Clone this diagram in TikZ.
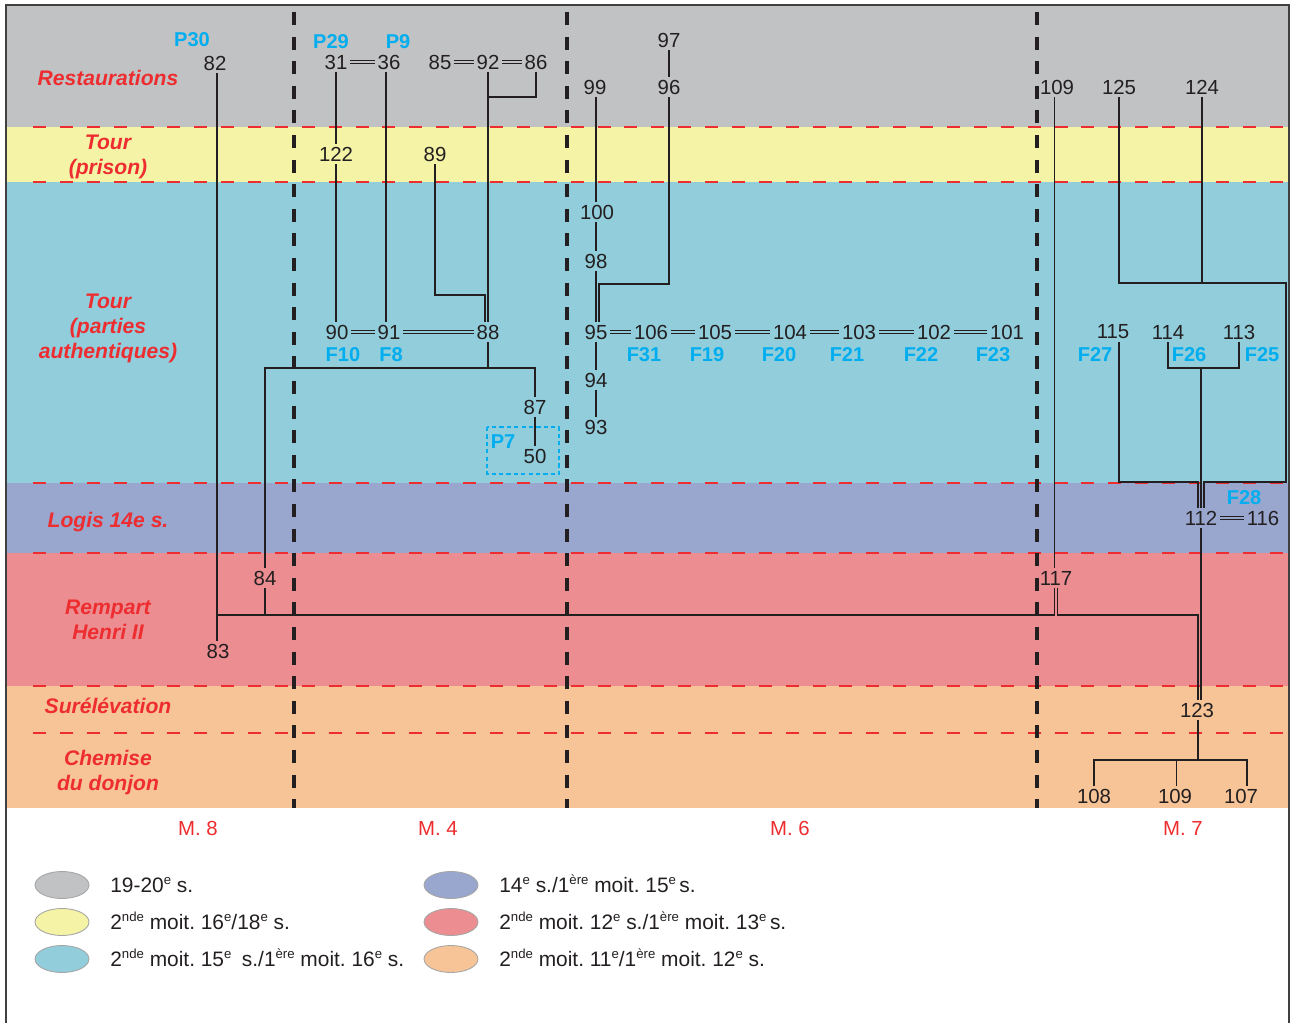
\documentclass[tikz,border=0pt]{standalone}
\usepackage{fontspec}
\setmainfont{Liberation Sans}
\usepackage{tikz}
\usetikzlibrary{positioning,calc,shapes.geometric}
\definecolor{cRest}{HTML}{C1C2C4}
\definecolor{cPrison}{HTML}{F4F3A6}
\definecolor{cTour}{HTML}{91CDDB}
\definecolor{cLogis}{HTML}{99A7CF}
\definecolor{cRempart}{HTML}{EB8D91}
\definecolor{cChemise}{HTML}{F7C497}
\definecolor{cRed}{HTML}{ED2D30}
\definecolor{cCyan}{HTML}{00AEEF}
\definecolor{cInk}{HTML}{231F20}
\newcommand\expo[1]{\raisebox{4pt}{\fontsize{7.5}{7.5}\selectfont #1}}
\frenchspacing
\tikzset{
  num/.style={text=cInk, font=\fontsize{11.6}{13}\selectfont, inner sep=1.5pt},
  fab/.style={text=cCyan, font=\fontsize{11.4}{13}\selectfont\bfseries, inner sep=1pt},
  zone/.style={text=cRed, font=\fontsize{12}{14.2}\selectfont\bfseries\itshape, align=center},
  mlab/.style={text=cRed, font=\fontsize{11.6}{13}\selectfont},
  keytext/.style={text=cInk, font=\fontsize{11.9}{13}\selectfont, anchor=base west, inner sep=0pt},
  link/.style={draw=cInk, line width=0.65pt},
  twin/.style={draw=cInk, double=#1, double distance=1.5pt, line width=0.45pt},
  limit/.style={draw=cRed, line width=0.8pt, dash pattern=on 7.4pt off 7.9pt},
  wall/.style={draw=cInk, line width=1.8pt, dash pattern=on 7.4pt off 6.6pt},
  key/.style={ellipse, draw=black!35, fill=#1, line width=0.5pt,
              minimum width=1.08cm, minimum height=0.54cm, inner sep=0pt},
}

\begin{document}
\begin{tikzpicture}[x=0.02cm, y=-0.02cm]
\useasboundingbox (0,0) rectangle (1290,1023);
% bands
\fill[cRest] (6,5) rectangle (1289,127);
\fill[cPrison] (6,127) rectangle (1289,182);
\fill[cTour] (6,182) rectangle (1289,483);
\fill[cLogis] (6,483) rectangle (1289,553);
\fill[cRempart] (6,553) rectangle (1289,686);
\fill[cChemise] (6,686) rectangle (1289,808);
\foreach \y in {127,182,483,553,686,733}
  \draw[limit] (33,\y) -- (1286,\y);
\foreach \x in {294,567,1037}
  \draw[wall] (\x,12) -- (\x,808);
\draw[line width=1.1pt, draw=black!75] (6,1023) -- (6,5) -- (1289,5) -- (1289,1023);

% zones
\node[zone] (zRest) at (108,78) {Restaurations};
\node[zone] (zPrison) at (108,157) {Tour\\(prison)};
\node[zone] (zTour) at (108,328) {Tour\\(parties\\authentiques)};
\node[zone] (zLogis) at (108,522) {Logis 14e s.};
\node[zone] (zRempart) at (108,620) {Rempart\\Henri II};
\node[zone] (zSurel) at (108,706) {Surélévation};
\node[zone] (zChemise) at (108,773) {Chemise\\du donjon};

% M. 8
\node[fab] (p30) at (192,40) {P30};
\node[num] (n82) at (215,63) {82};
\node[num] (n84) at (265,578) {84};
\node[num] (n83) at (218,651) {83};

% M. 4
\node[fab] (p29) at (331,42) {P29};
\node[fab] (p9) at (398,42) {P9};
\node[num] (n31) at (336,62) {31};
\node[num] (n36) at (389,62) {36};
\node[num] (n85) at (440,62) {85};
\node[num] (n92) at (488,62) {92};
\node[num] (n86) at (536,62) {86};
\node[num] (n122) at (336,154) {122};
\node[num] (n89) at (435,154) {89};
\node[num] (n90) at (337,332) {90};
\node[num] (n91) at (389,332) {91};
\node[num] (n88) at (488,332) {88};
\node[fab] (f10) at (343,355) {F10};
\node[fab] (f8) at (391,355) {F8};
\node[num] (n87) at (535,407) {87};
\node[fab] (p7) at (503,442) {P7};
\node[num] (n50) at (535,456) {50};
\draw[cCyan, line width=0.6pt, dash pattern=on 2.4pt off 1.8pt] (487,427) rectangle (559,474);

% M. 6
\node[num] (n97) at (669,40) {97};
\node[num] (n96) at (669,87) {96};
\node[num] (n99) at (595,87) {99};
\node[num] (n100) at (597,212) {100};
\node[num] (n98) at (596,261) {98};
\node[num] (n95) at (596,332) {95};
\node[num] (n106) at (651,332) {106};
\node[num] (n105) at (715,332) {105};
\node[num] (n104) at (790,332) {104};
\node[num] (n103) at (859,332) {103};
\node[num] (n102) at (934,332) {102};
\node[num] (n101) at (1007,332) {101};
\node[fab] (f31) at (644,355) {F31};
\node[fab] (f19) at (707,355) {F19};
\node[fab] (f20) at (779,355) {F20};
\node[fab] (f21) at (847,355) {F21};
\node[fab] (f22) at (921,355) {F22};
\node[fab] (f23) at (993,355) {F23};
\node[num] (n94) at (596,380) {94};
\node[num] (n93) at (596,427) {93};

% M. 7
\node[num] (n109a) at (1057,87) {109};
\node[num] (n125) at (1119,87) {125};
\node[num] (n124) at (1202,87) {124};
\node[num] (n115) at (1113,332) {115};
\node[num] (n114) at (1168,332) {114};
\node[num] (n113) at (1239,332) {113};
\node[fab] (f27) at (1095,355) {F27};
\node[fab] (f26) at (1189,355) {F26};
\node[fab] (f25) at (1262,355) {F25};
\node[fab] (f28) at (1244,498) {F28};
\node[num] (n112) at (1201,518) {112};
\node[num] (n116) at (1263,518) {116};
\node[num] (n117) at (1056,578) {117};
\node[num] (n123) at (1197,710) {123};
\node[num] (n108) at (1094,796) {108};
\node[num] (n109b) at (1175,796) {109};
\node[num] (n107) at (1241,796) {107};

% equivalences
\draw[twin=cRest] (n31) -- (n36);
\draw[twin=cRest] (n85) -- (n92);
\draw[twin=cRest] (n92) -- (n86);
\draw[twin=cTour] (n90) -- (n91);
\draw[twin=cTour] (n91) -- (n88);
\draw[twin=cTour] (n95) -- (n106);
\draw[twin=cTour] (n106) -- (n105);
\draw[twin=cTour] (n105) -- (n104);
\draw[twin=cTour] (n104) -- (n103);
\draw[twin=cTour] (n103) -- (n102);
\draw[twin=cTour] (n102) -- (n101);
\draw[twin=cLogis] (n112) -- (n116);

% junctions
\coordinate (j86) at (488,97);
\coordinate (j89) at (485,295);
\coordinate (j88) at (488,368);
\coordinate (j96) at (599,284);
\coordinate (hL) at (217,615);
\coordinate (jR) at (1198,615);
\coordinate (c125a) at (1286,283);
\coordinate (c125b) at (1286,482);
\coordinate (c115) at (1119,482);
\coordinate (c114) at (1201,368);
\coordinate (c123) at (1198,760);
\coordinate (c107) at (1247,760);

% M. 8 / M. 4 links
\draw[link] (hL |- n82.south) -- (hL |- n83.north);
\draw[link] (n84.south) -- (n84.south |- hL);
\draw[link] (hL) -| ([xshift=-0.85pt]n117.south);
\draw[link] (n84.north) |- (j88) -| (n87.north);
\draw[link] (n88.south) -- (j88);
\draw[link] (n87.south) -- (n50.north);
\draw[link] (n31.south) -- (n122.north);
\draw[link] (n122.south) -- (n122.south |- n90.north);
\draw[link] ([xshift=-1.7pt]n36.south) -- ([xshift=-1.7pt]n91.north);
\draw[link] (n89.south) |- (j89) -- (j89 |- n88.north);
\draw[link] (n92.south) -- (n88.north);
\draw[link] (n86.south) |- (j86);

% M. 6 links
\draw[link] (n97.south) -- (n96.north);
\draw[link] (n98.north |- n99.south) -- (n100.north -| n98.north);
\draw[link] (n98.north |- n100.south) -- (n98.north);
\draw[link] (n98.south) -- (n95.north);
\draw[link] (n96.south) |- (j96) -- (j96 |- n95.north);
\draw[link] (n95.south) -- (n94.north);
\draw[link] (n94.south) -- (n93.north);

% M. 7 links
\draw[link] ([xshift=-0.85pt]n117.north |- n109a.south) -- ([xshift=-0.85pt]n117.north);
\draw[link] ([xshift=0.85pt]n117.south) |- (jR) -- (jR |- n123.north);
\draw[link] (n125.south) |- (c125a) -- (c125b) -| ([xshift=1.7pt]n112.north);
\draw[link] (n124.south) -- (n124.south |- c125a);
\draw[link] (c115 |- n115.south) -- (c115) -| ([xshift=-1.7pt]n112.north);
\draw[link] (n114.south) |- (c114) -| (n113.south);
\draw[link] (c114) -- (n112.north);
\draw[link] (n112.south) -- (n112.south |- n123.north);
\draw[link] (c123 |- n123.south) -- (c123);
\draw[link] (n108.north) |- (c107) -- (c107 |- n107.north);
\draw[link] ([xshift=1pt]n109b.north) -- ([xshift=1pt]n109b.north |- c123);

% masonry units
\node[mlab] (m8) at (198,828) {M. 8};
\node[mlab] (m4) at (438,828) {M. 4};
\node[mlab] (m6) at (790,828) {M. 6};
\node[mlab] (m7) at (1183,828) {M. 7};

% legend
\node[key=cRest] (kRest) at (62,885) {};
\node[key=cPrison] (kPrison) at (62,922) {};
\node[key=cTour] (kTour) at (62,959) {};
\node[key=cLogis] (kLogis) at (451,885) {};
\node[key=cRempart] (kRempart) at (451,922) {};
\node[key=cChemise] (kChemise) at (451,959) {};
\node[keytext] (tRest) at (110,892) {19-20\expo{e} s.};
\node[keytext] (tPrison) at (110,929) {2\expo{nde} moit. 16\expo{e}/18\expo{e} s.};
\node[keytext] (tTour) at (110,966) {2\expo{nde} moit. 15\expo{e}\enspace s./1\expo{ère} moit. 16\expo{e} s.};
\node[keytext] (tLogis) at (499,892) {14\expo{e} s./1\expo{ère} moit. 15\expo{e}\,s.};
\node[keytext] (tRempart) at (499,929) {2\expo{nde} moit. 12\expo{e} s./1\expo{ère} moit. 13\expo{e}\,s.};
\node[keytext] (tChemise) at (499,966) {2\expo{nde} moit. 11\expo{e}/1\expo{ère} moit. 12\expo{e} s.};
\end{tikzpicture}
\end{document}
